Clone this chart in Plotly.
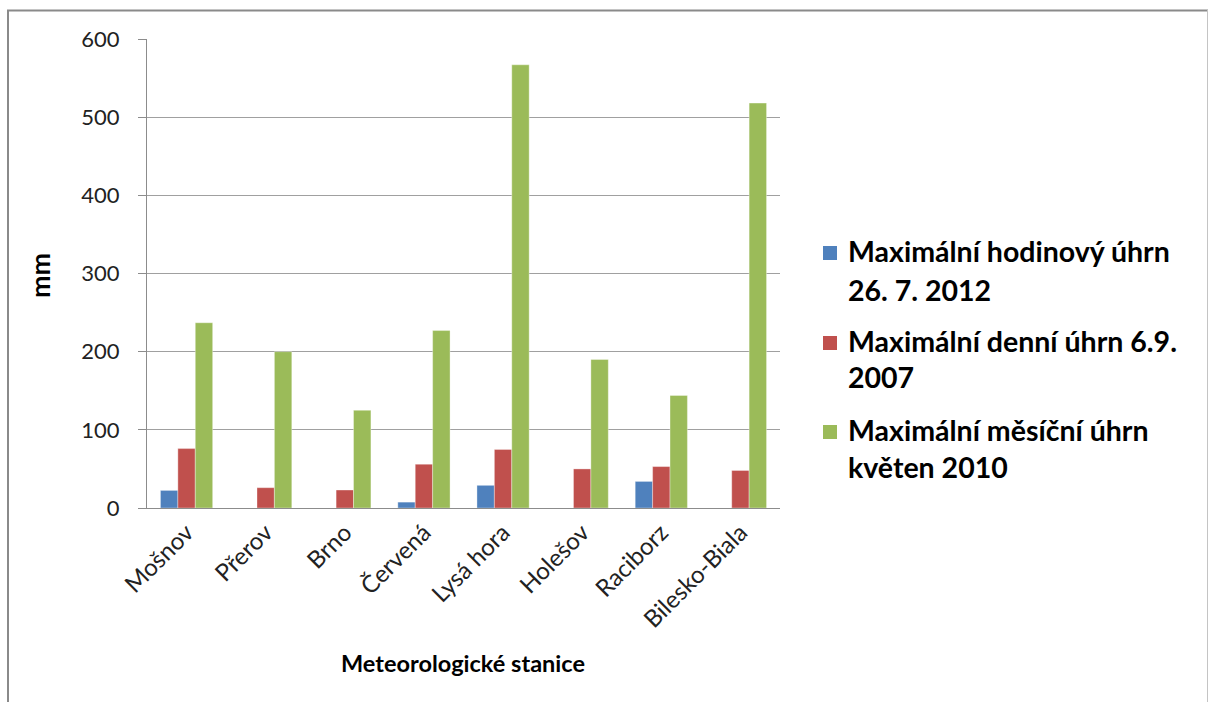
import plotly.graph_objects as go

# Stanice a srážkové úhrny (mm)
stanice = ["Mošnov", "Přerov", "Brno", "Červená", "Lysá hora", "Holešov", "Raciborz", "Bilesko-Biala"]
hodinovy = [22.5, None, None, 7.5, 29, None, 34, None]
denni = [76, 26, 23, 56, 75, 50, 53, 48]
mesicni = [237, 200, 125, 227, 567, 190, 144, 518]

nazvy = [
    ["Maximální hodinový úhrn", "26. 7. 2012"],
    ["Maximální denní úhrn 6.9.", "2007"],
    ["Maximální měsíční úhrn", "květen 2010"],
]
barvy = ["#4F81BD", "#C0504D", "#9BBB59"]
serie = [hodinovy, denni, mesicni]

FONT = "Lato"

# plot area in pixels (width 1208, height 702)
L, R, T, B = 147, 780, 39, 508
W, H = R - L, B - T


def px(x):
    return (x - L) / W


def py(y):
    return (B - y) / H


fig = go.Figure()
for hodnoty, barva, nazev in zip(serie, barvy, nazvy):
    fig.add_trace(go.Bar(
        x=stanice, y=hodnoty, name=" ".join(nazev),
        marker=dict(color=barva, line=dict(color="rgba(255,255,255,0.35)", width=1)),
        showlegend=False,
    ))

annotations = []
shapes = []

# legend drawn as squares and text lines
baselines = [(261, 300), (351, 387), (440, 477)]
LFS = 28.5
for (b1, b2), barva, nazev in zip(baselines, barvy, nazvy):
    shapes.append(dict(type="rect", xref="paper", yref="paper",
                       x0=px(823), x1=px(837), y0=py(b1 - 1), y1=py(b1 - 15),
                       fillcolor=barva, line=dict(width=0)))
    for b, t in zip((b1, b2), nazev):
        annotations.append(dict(text="<b>%s</b>" % t, xref="paper", yref="paper",
                                x=px(846), y=py(b - 0.35 * LFS), xanchor="left", yanchor="middle",
                                showarrow=False, font=dict(family=FONT, size=LFS, color="#000000")))

# axis titles
annotations.append(dict(text="<b>mm</b>", xref="paper", yref="paper", x=px(39), y=py(275),
                        textangle=-90, xanchor="center", yanchor="middle", showarrow=False,
                        font=dict(family=FONT, size=27, color="#000000")))
annotations.append(dict(text="<b>Meteorologické stanice</b>", xref="paper", yref="paper",
                        x=px(463), y=py(663), xanchor="center", yanchor="middle", showarrow=False,
                        font=dict(family=FONT, size=23.5, color="#000000")))

# outer frame
frame = dict(xref="paper", yref="paper", type="line")
shapes.append(dict(frame, x0=px(7), x1=px(1208), y0=py(10.5), y1=py(10.5), line=dict(color="#8a8a8a", width=2)))
shapes.append(dict(frame, x0=px(8), x1=px(8), y0=py(10), y1=py(720), line=dict(color="#8a8a8a", width=2)))
shapes.append(dict(frame, x0=px(1207.5), x1=px(1207.5), y0=py(10), y1=py(720), line=dict(color="#c4c4c4", width=1)))

fig.update_layout(
    width=1208, height=702,
    margin=dict(l=L, r=1208 - R, t=T, b=702 - B, pad=0),
    paper_bgcolor="white", plot_bgcolor="white",
    barmode="group", bargap=0.34, bargroupgap=0,
    font=dict(family=FONT, size=20, color="#222222"),
    annotations=annotations, shapes=shapes,
    xaxis=dict(
        tickangle=-45, showgrid=False, showline=True, linecolor="#8c8c8c", linewidth=1,
        ticks="", tickfont=dict(family=FONT, size=24, color="#222222"), fixedrange=True,
    ),
    yaxis=dict(
        range=[0, 600], dtick=100, showgrid=True, gridcolor="#a0a0a0", gridwidth=1,
        showline=True, linecolor="#8c8c8c", linewidth=1, ticks="outside", ticklen=8,
        tickcolor="#8c8c8c", ticklabelstandoff=14, zeroline=False,
        tickfont=dict(family=FONT, size=22, color="#222222"), fixedrange=True,
    ),
)

fig.write_html("out.html")
